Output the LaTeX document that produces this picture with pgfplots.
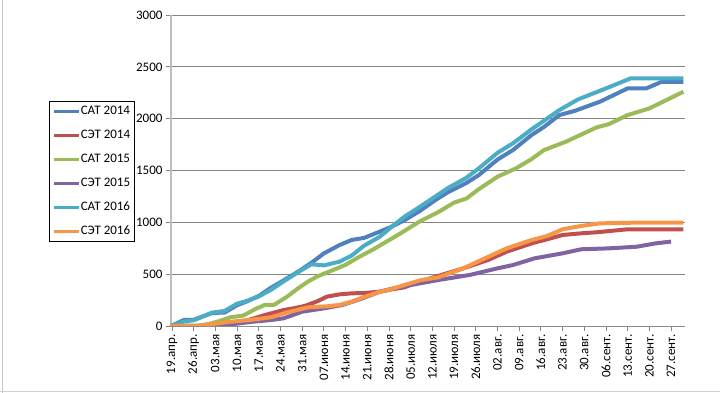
\documentclass[border=0pt]{standalone}
\usepackage{fontspec}
\setmainfont{Carlito}
\usepackage{pgfplots}
\pgfplotsset{compat=1.18}
\definecolor{c1}{HTML}{4F81BD}
\definecolor{c2}{HTML}{C0504D}
\definecolor{c3}{HTML}{9BBB59}
\definecolor{c4}{HTML}{8064A2}
\definecolor{c5}{HTML}{4BACC6}
\definecolor{c6}{HTML}{F79646}
\begin{document}
\begin{tikzpicture}
\path[use as bounding box] (-171pt,-67pt) rectangle (549pt,326pt);
\draw[black!22, line width=0.8pt] (-169pt,-67pt) -- (-169pt,326pt);
\draw[black!18, line width=0.8pt] (-171pt,-65pt) -- (549pt,-65pt);
\begin{axis}[
  at={(0,0)}, anchor=south west,
  scale only axis, width=514pt, height=311pt,
  xmin=-0.3, xmax=165.5, ymin=0, ymax=3000,
  ytick={0,500,...,3000},
  xtick={0,7,...,161},
  xticklabels={19.апр.,26.апр.,03.мая,10.мая,17.мая,24.мая,31.мая,07.июня,14.июня,21.июня,28.июня,05.июля,12.июля,19.июля,26.июля,02.авг.,09.авг.,16.авг.,23.авг.,30.авг.,06.сент.,13.сент.,20.сент.,27.сент.},
  xticklabel style={rotate=90, anchor=east, font=\fontsize{13}{15}\selectfont},
  yticklabel style={font=\fontsize{13}{15}\selectfont},
  /pgf/number format/assume math mode=true,
  /pgf/number format/1000 sep={},
  axis x line*=bottom, axis y line*=left,
  x axis line style={draw=black!45, line width=0.8pt},
  y axis line style={draw=black!25, line width=1.6pt},
  ymajorgrids, grid style={draw=black!48, line width=0.8pt},
  tick align=outside, major tick length=5pt,
  tick style={draw=black!48, line width=0.8pt},
  legend style={at={(-0.2374,0.7235)}, anchor=north west, draw=black, line width=0.6pt, fill=white,
    font=\fontsize{13}{15}\selectfont, inner sep=3pt, row sep=10pt,
    nodes={inner sep=1pt, text height=9pt, text depth=3pt}},
  legend cell align=left,
  legend image code/.code={\draw[#1, line width=2.5pt] (0pt,0pt) -- (25pt,0pt);},
  every axis plot/.append style={line width=4pt, line join=round, no markers},
]
\addplot[c1] coordinates {(-0.3,0) (4,60) (7,60) (13,125) (17,130) (21,200) (24,235) (28,290) (32,370) (36,440) (41,530) (45,610) (49,700) (54,780) (58,830) (62,850) (67,910) (71,960) (75,1020) (80,1110) (85,1215) (89,1290) (95,1380) (99,1456) (105,1605) (110,1697) (116,1842) (120,1920) (125,2035) (130,2076) (138,2163) (147,2292) (153,2292) (158,2356) (165,2356)};
\addplot[c2] coordinates {(-0.3,0) (12,0) (17,15) (21,35) (25,60) (30,106) (33,130) (36,154) (40,175) (43,195) (47,240) (50,283) (54,305) (58,315) (62,318) (67,331) (71,354) (75,373) (79,420) (85,475) (94,556) (102,637) (108,717) (116,797) (121,836) (126,878) (132,894) (137,904) (147,933) (165,933)};
\addplot[c3] coordinates {(-0.3,0) (8,0) (12,20) (15,45) (19,85) (23,100) (27,165) (30,203) (33,205) (37,280) (41,370) (44,430) (47,480) (52,540) (56,590) (60,660) (65,740) (69,810) (73,880) (80,1010) (86,1100) (91,1190) (95,1230) (99,1320) (105,1440) (111,1521) (116,1610) (120,1697) (127,1777) (133,1860) (137,1916) (141,1948) (147,2035) (154,2099) (165,2260)};
\addplot[c4] coordinates {(-0.3,0) (15,0) (20,19) (26,41) (32,58) (36,74) (42,138) (49,170) (55,203) (61,262) (67,330) (71,360) (77,395) (86,444) (96,492) (105,556) (110,588) (117,653) (126,701) (132,740) (141,749) (150,765) (156,797) (161,814)};
\addplot[c5] coordinates {(-0.3,0) (4,45) (7,55) (13,130) (17,145) (21,215) (24,240) (28,285) (32,350) (36,430) (41,525) (45,595) (49,585) (54,620) (58,680) (62,775) (67,860) (71,960) (75,1054) (80,1150) (85,1250) (89,1330) (95,1430) (99,1521) (105,1670) (110,1762) (116,1897) (120,1980) (125,2083) (131,2186) (140,2292) (148,2389) (165,2389)};
\addplot[c6] coordinates {(-0.3,0) (8,0) (19,41) (25,58) (32,84) (37,130) (44,180) (50,190) (54,203) (58,234) (62,280) (67,330) (71,358) (75,395) (80,440) (86,470) (94,556) (101,653) (108,749) (116,829) (121,868) (126,933) (132,965) (138,990) (148,996) (165,996)};
\legend{САТ 2014, СЭТ 2014, САТ 2015, СЭТ 2015, САТ 2016, СЭТ 2016}
\end{axis}
\end{tikzpicture}
\end{document}
